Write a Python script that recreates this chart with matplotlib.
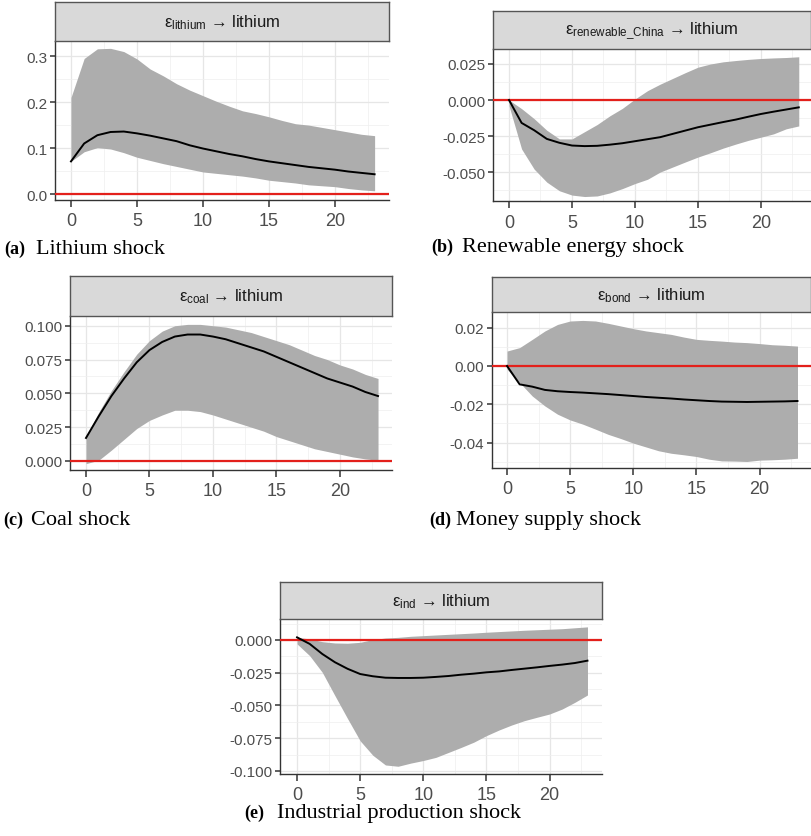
import matplotlib
matplotlib.use('Agg')
import matplotlib.pyplot as plt
from matplotlib.ticker import FixedLocator, MultipleLocator

plt.rcParams['font.family'] = ['Liberation Sans', 'DejaVu Sans']
plt.rcParams['mathtext.fontset'] = 'custom'
plt.rcParams['mathtext.rm'] = 'Liberation Sans'
plt.rcParams['mathtext.it'] = 'Liberation Sans:italic'
plt.rcParams['mathtext.default'] = 'regular'
plt.rcParams['axes.unicode_minus'] = False

# horizon (months after the shock)
horizon = list(range(24))

# (a) lithium shock
lith_irf = [0.071, 0.110, 0.128, 0.135, 0.136, 0.132, 0.127, 0.121, 0.115, 0.106,
            0.099, 0.093, 0.087, 0.082, 0.076, 0.071, 0.067, 0.063, 0.059, 0.056,
            0.053, 0.049, 0.046, 0.043]
lith_lo = [0.071, 0.092, 0.101, 0.098, 0.090, 0.080, 0.073, 0.066, 0.060, 0.054,
           0.048, 0.045, 0.042, 0.039, 0.035, 0.030, 0.027, 0.024, 0.020, 0.018,
           0.016, 0.012, 0.009, 0.007]
lith_hi = [0.210, 0.295, 0.316, 0.317, 0.310, 0.294, 0.272, 0.257, 0.240, 0.226,
           0.214, 0.202, 0.191, 0.181, 0.175, 0.168, 0.160, 0.153, 0.150, 0.145,
           0.140, 0.135, 0.130, 0.127]

# (b) renewable energy shock
ren_irf = [0.0, -0.0159, -0.021, -0.027, -0.0297, -0.0316, -0.032, -0.0318, -0.031,
           -0.030, -0.0286, -0.0272, -0.0258, -0.0235, -0.0212, -0.0189, -0.0171,
           -0.0153, -0.0136, -0.0116, -0.0097, -0.0081, -0.0066, -0.0051]
ren_lo = [-0.004, -0.034, -0.048, -0.057, -0.063, -0.066, -0.067, -0.0666, -0.0645,
          -0.0615, -0.058, -0.055, -0.050, -0.0465, -0.043, -0.0396, -0.0366,
          -0.0334, -0.0306, -0.028, -0.0258, -0.0235, -0.020, -0.018]
ren_hi = [0.0, -0.006, -0.013, -0.021, -0.027, -0.027, -0.022, -0.017, -0.011,
          -0.0058, 0.0007, 0.0065, 0.011, 0.015, 0.019, 0.0228, 0.025, 0.0265,
          0.0274, 0.0282, 0.0288, 0.0292, 0.0295, 0.030]

# (c) coal shock
coal_irf = [0.017, 0.033, 0.048, 0.061, 0.073, 0.082, 0.088, 0.092, 0.0935, 0.0935,
            0.092, 0.090, 0.087, 0.084, 0.081, 0.077, 0.073, 0.069, 0.065, 0.061,
            0.058, 0.055, 0.051, 0.048]
coal_lo = [-0.002, 0.0005, 0.008, 0.016, 0.024, 0.030, 0.034, 0.0375, 0.0375, 0.0365,
           0.034, 0.031, 0.028, 0.025, 0.022, 0.018, 0.015, 0.012, 0.009, 0.007,
           0.005, 0.003, 0.0015, 0.0005]
coal_hi = [0.018, 0.036, 0.052, 0.066, 0.079, 0.089, 0.096, 0.100, 0.101, 0.101,
           0.100, 0.099, 0.097, 0.095, 0.092, 0.089, 0.086, 0.082, 0.078, 0.075,
           0.071, 0.068, 0.064, 0.061]

# (d) money supply shock
bond_irf = [0.0, -0.0096, -0.0108, -0.0125, -0.0132, -0.0136, -0.0139, -0.0143,
            -0.0147, -0.0152, -0.0157, -0.0162, -0.0166, -0.0170, -0.0175, -0.0179,
            -0.0183, -0.0186, -0.0187, -0.0188, -0.0187, -0.0186, -0.0185, -0.0183]
bond_lo = [-0.0017, -0.0087, -0.0157, -0.0209, -0.0252, -0.0282, -0.0304, -0.033,
           -0.0357, -0.0379, -0.0403, -0.0423, -0.0443, -0.0456, -0.0464, -0.0473,
           -0.0487, -0.0496, -0.0497, -0.0499, -0.0492, -0.049, -0.0487, -0.0482]
bond_hi = [0.0078, 0.0096, 0.0139, 0.0183, 0.0217, 0.0235, 0.0238, 0.0235, 0.0223,
           0.0209, 0.0195, 0.0183, 0.0174, 0.0165, 0.0151, 0.0139, 0.0134, 0.013,
           0.0125, 0.0122, 0.0117, 0.0111, 0.0108, 0.0104]

# (e) industrial production shock
ind_irf = [0.002, -0.003, -0.0107, -0.017, -0.022, -0.026, -0.0277, -0.0288, -0.029,
           -0.029, -0.0288, -0.0282, -0.0275, -0.0265, -0.0257, -0.0247, -0.024,
           -0.0229, -0.0219, -0.0209, -0.0198, -0.0188, -0.0176, -0.0158]
ind_lo = [-0.003, -0.012, -0.0247, -0.0425, -0.060, -0.077, -0.088, -0.0954, -0.0964,
          -0.094, -0.092, -0.0896, -0.0858, -0.082, -0.078, -0.073, -0.0687, -0.0649,
          -0.0616, -0.059, -0.0565, -0.0527, -0.0476, -0.042]
ind_hi = [0.002, 0.0008, -0.0013, -0.0023, -0.0025, -0.0018, 0.0003, 0.0015, 0.002,
          0.0028, 0.0033, 0.0038, 0.0043, 0.0048, 0.0053, 0.0059, 0.0064, 0.0069,
          0.0074, 0.0078, 0.0082, 0.0086, 0.0093, 0.010]

shock_names = ['lithium', 'renewable\\_China', 'coal', 'bond', 'ind']
captions = [('(a)', 'Lithium shock'), ('(b)', 'Renewable energy shock'),
            ('(c)', 'Coal shock'), ('(d)', 'Money supply shock'),
            ('(e)', 'Industrial production shock')]
yticks = [[0.0, 0.1, 0.2, 0.3],
          [-0.05, -0.025, 0.0, 0.025],
          [0.0, 0.025, 0.05, 0.075, 0.1],
          [-0.04, -0.02, 0.0, 0.02],
          [-0.1, -0.075, -0.05, -0.025, 0.0]]
ytick_labels = [['0.0', '0.1', '0.2', '0.3'],
                ['-0.050', '-0.025', '0.000', '0.025'],
                ['0.000', '0.025', '0.050', '0.075', '0.100'],
                ['-0.04', '-0.02', '0.00', '0.02'],
                ['-0.100', '-0.075', '-0.050', '-0.025', '0.000']]
irfs = [lith_irf, ren_irf, coal_irf, bond_irf, ind_irf]
lows = [lith_lo, ren_lo, coal_lo, bond_lo, ind_lo]
highs = [lith_hi, ren_hi, coal_hi, bond_hi, ind_hi]

W, H = 811, 837
fig = plt.figure(figsize=(W / 100, H / 100), dpi=100)


def box(x0, y0, x1, y1):
    # pixel box (top-left origin) -> figure fraction
    return [x0 / W, 1 - y1 / H, (x1 - x0) / W, (y1 - y0) / H]


# layout in pixels: axes box, strip top, xlim, ylim, caption (x_tag, x_text, baseline)
layout = [
    ((55, 42, 389, 201), 3, (-1.21, 24.09), (-0.013, 0.333), (4, 36, 254)),
    ((493, 50, 811, 202), 12, (-1.27, 23.97), (-0.0701, 0.0354), (431, 462, 252)),
    ((70, 317, 392, 471), 277, (-1.26, 24.1), (-0.0067, 0.1072), (3, 31, 525)),
    ((492, 313, 811, 469), 278, (-1.19, 24.07), (-0.0533, 0.0282), (429, 456, 525)),
    ((280, 620, 602, 775), 583, (-1.35, 24.15), (-0.1023, 0.016), (244, 277, 818)),
]

for i, (axbox, strip_top, xl, yl, cap) in enumerate(layout):
    x0, y0, x1, y1 = axbox
    ax = fig.add_axes(box(x0, y0, x1, y1))
    ax.set_xlim(*xl)
    ax.set_ylim(*yl)
    ax.set_axisbelow(True)

    ax.fill_between(horizon, lows[i], highs[i], color='#ADADAD', lw=0, zorder=2)
    ax.axhline(0, color='#E3201B', lw=1.6, zorder=3)
    ax.plot(horizon, irfs[i], color='black', lw=1.4, zorder=4)

    ax.xaxis.set_major_locator(FixedLocator([0, 5, 10, 15, 20]))
    ax.xaxis.set_minor_locator(FixedLocator([-2.5, 2.5, 7.5, 12.5, 17.5, 22.5]))
    ax.set_xticklabels(['0', '5', '10', '15', '20'])
    ax.set_yticks(yticks[i])
    ax.set_yticklabels(ytick_labels[i])
    step = yticks[i][1] - yticks[i][0]
    ax.yaxis.set_minor_locator(MultipleLocator(step / 2))

    ax.grid(which='major', color='#E6E6E6', lw=0.9)
    ax.grid(which='minor', color='#EFEFEF', lw=0.5)
    ax.tick_params(which='minor', length=0)
    ax.tick_params(axis='x', which='major', length=5, width=1.1, color='#333333',
                   labelsize=13, labelcolor='#4D4D4D', pad=4)
    ax.tick_params(axis='y', which='major', length=3.5, width=1.1, color='#333333',
                   labelsize=11, labelcolor='#4D4D4D', pad=2)

    for side in ['top', 'right']:
        ax.spines[side].set_visible(False)
    for side in ['left', 'bottom']:
        ax.spines[side].set_color('#333333')
        ax.spines[side].set_linewidth(1.0)

    # facet strip
    sax = fig.add_axes(box(x0, strip_top, x1, y0))
    sax.set_facecolor('#D9D9D9')
    sax.set_xticks([])
    sax.set_yticks([])
    for sp in sax.spines.values():
        sp.set_color('#555555')
        sp.set_linewidth(1.0)
    label = r'$\mathregular{ε_{%s}}$ → lithium' % shock_names[i]
    sax.text(0.5, 0.5, label, ha='center', va='center', fontsize=12,
             color='#1A1A1A', transform=sax.transAxes)

    # caption
    tag, text = captions[i]
    fig.text(cap[0] / W, 1 - cap[2] / H, tag, ha='left', va='baseline',
             family='Liberation Serif', fontweight='bold', fontsize=13)
    fig.text(cap[1] / W, 1 - cap[2] / H, text, ha='left', va='baseline',
             family='Liberation Serif', fontsize=16)

fig.savefig('out.png', dpi=100)
